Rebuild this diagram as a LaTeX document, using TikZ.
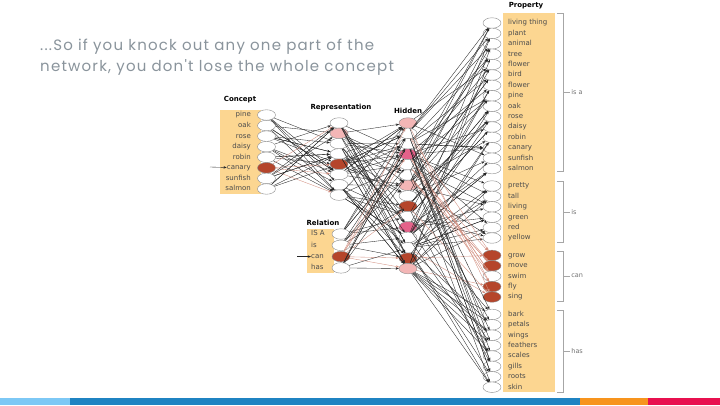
\documentclass[tikz,border=0pt]{standalone}
\usepackage{fontspec}
\setmainfont{DejaVu Sans}
\newfontfamily\titlefont[LetterSpace=8]{Poppins}
\usetikzlibrary{arrows.meta,shapes.geometric}

\definecolor{unitRed}{RGB}{181,69,43}
\definecolor{unitPink}{RGB}{243,182,182}
\definecolor{unitRose}{RGB}{229,98,138}
\definecolor{boxOrange}{RGB}{252,214,145}
\definecolor{titleGray}{RGB}{138,148,156}
\definecolor{barLight}{RGB}{125,200,245}
\definecolor{barBlue}{RGB}{31,131,194}
\definecolor{barOrange}{RGB}{247,148,29}
\definecolor{barRed}{RGB}{232,16,79}

\begin{document}
\begin{tikzpicture}[x=1pt, y=-1pt,
    unit/.style={ellipse, draw=black!45, line width=0.4pt, fill=white, minimum width=18pt, minimum height=10.5pt, inner sep=0pt},
    word/.style={font=\fontsize{7}{8}\selectfont, text=black!70, inner sep=0pt, text height=5.2pt, text depth=1.4pt},
    head/.style={font=\fontsize{7}{8}\selectfont\bfseries, inner sep=0pt},
    link/.style={-{Stealth[length=3.2pt,width=2.4pt]}, line width=0.35pt, black!85},
    hot/.style={link, draw=unitRed!60},
    brace/.style={draw=black!35, line width=0.6pt},
    tag/.style={font=\fontsize{6.5}{7}\selectfont, text=black!55, anchor=west, inner sep=0pt},
    title/.style={anchor=base west, inner sep=0pt, text=titleGray, font=\titlefont\fontsize{15}{20}\selectfont}
]
\fill[white] (0,0) rectangle (720,405);

% title
\node[title] (title1) at (40,50) {...So if you knock out any one part of the};
\node[title] (title2) at (40,71) {network, you don't lose the whole concept};

% boxes
\fill[boxOrange] (220,110) rectangle (261,194);
\fill[boxOrange] (307,229) rectangle (334,273);
\fill[boxOrange] (503,13) rectangle (555,392);

\node[head] (conceptHead) at (240,100) {Concept};
\node[head] (reprHead) at (341,108) {Representation};
\node[head] (hiddenHead) at (408,111) {Hidden};
\node[head] (relationHead) at (323,223) {Relation};
\node[head] (propertyHead) at (526,6) {Property};

% concept units
\foreach \w/\f [count=\i] in {pine/white, oak/white, rose/white, daisy/white, robin/white, canary/unitRed, sunfish/white, salmon/white} {
  \node[word, anchor=east] (cw\i) at (251, {115+10.57*(\i-1)}) {\w};
  \node[unit, fill=\f] (c\i) at (266.5, {115+10.57*(\i-1)}) {};
}

% relation units
\foreach \w/\f [count=\i] in {IS A/white, is/white, can/unitRed, has/white} {
  \node[word, anchor=west] (lw\i) at (311, {234+11.3*(\i-1)}) {\w};
  \node[unit, fill=\f] (l\i) at (341, {234+11.3*(\i-1)}) {};
}

% representation units
\foreach \f [count=\i] in {white, unitPink, white, white, unitRed, white, white, white}
  \node[unit, fill=\f] (r\i) at (339, {123+10.3*(\i-1)}) {};

% hidden units
\foreach \f [count=\i] in {unitPink, white, white, unitRose, white, white, unitPink, white, unitRed, white, unitRose, white, white, unitRed, unitPink}
  \node[unit, fill=\f] (h\i) at (408, {123+10.4*(\i-1)}) {};

% property units
\foreach \w/\g/\f [count=\i] in {living thing/0/white, plant/0/white, animal/0/white, tree/0/white, flower/0/white, bird/0/white, flower/0/white, pine/0/white, oak/0/white, rose/0/white, daisy/0/white, robin/0/white, canary/0/white, sunfish/0/white, salmon/0/white,
    pretty/1/white, tall/1/white, living/1/white, green/1/white, red/1/white, yellow/1/white,
    grow/2/unitRed, move/2/unitRed, swim/2/white, fly/2/unitRed, sing/2/unitRed,
    bark/3/white, petals/3/white, wings/3/white, feathers/3/white, scales/3/white, gills/3/white, roots/3/white, skin/3/white} {
  \node[word, anchor=west] (pw\i) at (508, {23+10.4*(\i-1)+7*\g}) {\w};
  \node[unit, fill=\f] (p\i) at (492, {23+10.4*(\i-1)+7*\g}) {};
}

% brackets
\foreach \top/\bot/\mid/\lab [count=\i] in {13/171.5/92.5/is a, 181.5/242/212.5/is, 251.5/301.5/276/can, 310.5/392/351.5/has} {
  \draw[brace] (557,\top) -- (563,\top) -- (563,\bot) -- (557,\bot);
  \draw[brace] (563,\mid) -- (570,\mid) node[tag] (group\i) {\,\lab};
}

% inputs
\coordinate (inConcept) at (210,167);
\coordinate (inRelation) at (297,256.6);
\draw[link] (inConcept) -- (cw6);
\draw[link] (inRelation) -- (lw3);

% connections
\pgfmathsetseed{17}
\foreach \i in {1,...,8}
  \foreach \k in {1,...,4} {
    \pgfmathrandominteger{\t}{1}{8}
    \ifnum\i=6 \draw[hot] (c\i) -- (r\t); \else \draw[link] (c\i) -- (r\t); \fi
  }
\foreach \i in {1,...,8}
  \foreach \k in {1,...,6} {
    \pgfmathrandominteger{\t}{1}{15}
    \draw[link] (r\i) -- (h\t);
  }
\foreach \i in {1,...,4}
  \foreach \k in {1,...,6} {
    \pgfmathrandominteger{\t}{1}{15}
    \ifnum\i=3 \draw[hot] (l\i) -- (h\t); \else \draw[link] (l\i) -- (h\t); \fi
  }
\foreach \j in {1,...,34}
  \foreach \k in {1,...,3} {
    \pgfmathrandominteger{\s}{1}{15}
    \ifnum\j>21 \ifnum\j<27 \draw[hot] (h\s) -- (p\j); \else \draw[link] (h\s) -- (p\j); \fi
    \else \draw[link] (h\s) -- (p\j); \fi
  }

% bottom bar
\fill[barLight] (0,398) rectangle (70,405);
\fill[barBlue] (70,398) rectangle (580,405);
\fill[barOrange] (580,398) rectangle (648,405);
\fill[barRed] (648,398) rectangle (720,405);
\end{tikzpicture}
\end{document}
